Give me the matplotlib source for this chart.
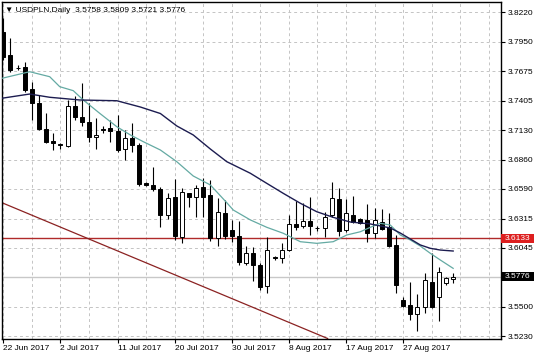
import numpy as np
import matplotlib
matplotlib.use('Agg')
import matplotlib.pyplot as plt
from matplotlib.patches import Rectangle

plt.rcParams['font.family'] = ['Liberation Sans', 'DejaVu Sans']

symbol = 'USDPLN.Daily'

# daily candles, one per trading bar (Sunday bars included, like the broker feed)
opens = [3.8038, 3.7826, 3.7710, 3.7718, 3.7509, 3.7385, 3.7139, 3.7034, 3.6999, 3.6985,
         3.7354, 3.7256, 3.7209, 3.7068, 3.7142, 3.7149, 3.7126, 3.6955, 3.7056, 3.6994,
         3.6639, 3.6625, 3.6585, 3.6348, 3.6517, 3.6149, 3.6548, 3.6511, 3.6606, 3.6528,
         3.6132, 3.6366, 3.6209, 3.6154, 3.5907, 3.5994, 3.5886, 3.5692, 3.5958, 3.5948,
         3.6024, 3.6262, 3.6246, 3.6295, 3.6232, 3.6225, 3.6348, 3.6493, 3.6209, 3.6348,
         3.6308, 3.6302, 3.6179, 3.6286, 3.6234, 3.6071, 3.5563, 3.5516, 3.5433, 3.5495,
         3.5732, 3.5587, 3.5717, 3.5758]
highs = [3.8167, 3.7983, 3.7733, 3.7764, 3.7579, 3.7456, 3.7287, 3.7105, 3.7016, 3.7410,
         3.7447, 3.7564, 3.7379, 3.7241, 3.7170, 3.7225, 3.7271, 3.7133, 3.7200, 3.7013,
         3.6653, 3.6788, 3.6604, 3.6548, 3.6677, 3.6594, 3.6551, 3.6625, 3.6687, 3.6671,
         3.6502, 3.6486, 3.6302, 3.6295, 3.6061, 3.6049, 3.5904, 3.6142, 3.5969, 3.6086,
         3.6348, 3.6477, 3.6461, 3.6511, 3.6246, 3.6378, 3.6655, 3.6594, 3.6493, 3.6523,
         3.6317, 3.6449, 3.6410, 3.6400, 3.6363, 3.6163, 3.5593, 3.5732, 3.5618, 3.5809,
         3.5994, 3.5870, 3.5778, 3.5809]
lows = [3.7779, 3.7669, 3.7687, 3.7487, 3.7225, 3.7133, 3.7010, 3.6948, 3.6955, 3.6973,
        3.7225, 3.7170, 3.7025, 3.6955, 3.7102, 3.7025, 3.6930, 3.6856, 3.6932, 3.6620,
        3.6611, 3.6572, 3.6234, 3.6308, 3.6117, 3.6086, 3.6422, 3.6326, 3.6332, 3.6112,
        3.6061, 3.6126, 3.6101, 3.5886, 3.5886, 3.5741, 3.5655, 3.5624, 3.5932, 3.5902,
        3.6018, 3.6209, 3.6230, 3.6163, 3.6203, 3.6147, 3.6326, 3.6154, 3.6193, 3.6277,
        3.6265, 3.6101, 3.6132, 3.6209, 3.6055, 3.5624, 3.5501, 3.5378, 3.5279, 3.5445,
        3.5486, 3.5371, 3.5701, 3.5721]
closes = [3.7807, 3.7687, 3.7701, 3.7502, 3.7385, 3.7139, 3.7025, 3.7010, 3.6990, 3.7354,
          3.7256, 3.7209, 3.7065, 3.7091, 3.7136, 3.7126, 3.6948, 3.7056, 3.6994, 3.6634,
          3.6625, 3.6585, 3.6348, 3.6502, 3.6154, 3.6563, 3.6511, 3.6597, 3.6517, 3.6132,
          3.6375, 3.6154, 3.6154, 3.5916, 3.5999, 3.5886, 3.5685, 3.6024, 3.5949, 3.6024,
          3.6265, 3.6241, 3.6295, 3.6246, 3.6228, 3.6332, 3.6502, 3.6203, 3.6363, 3.6286,
          3.6277, 3.6184, 3.6302, 3.6216, 3.6061, 3.5701, 3.5507, 3.5433, 3.5495, 3.5747,
          3.5495, 3.5824, 3.5763, 3.5776]

# moving averages (bar position, price)
fast_ma_bars = [-0.2, 3.7, 6.5, 7.9, 9.8, 11.2, 13.5, 15.9, 17.8, 19.6, 22.0, 24.3, 26.6,
                29.0, 31.3, 32.2, 34.6, 36.9, 39.2, 41.6, 43.9, 46.2, 48.1, 50.0, 51.4,
                52.8, 54.2, 55.6, 57.0, 58.4, 59.8, 61.2, 63.0]
fast_ma = [3.7610, 3.7671, 3.7625, 3.7533, 3.7496, 3.7410, 3.7287, 3.7163, 3.7087, 3.7025,
           3.6948, 3.6840, 3.6708, 3.6625, 3.6461, 3.6394, 3.6302, 3.6234, 3.6179, 3.6101,
           3.6086, 3.6101, 3.6163, 3.6193, 3.6234, 3.6271, 3.6255, 3.6163, 3.6117, 3.6061,
           3.5994, 3.5932, 3.5855]
slow_ma_bars = [-0.2, 3.7, 6.5, 10.7, 15.9, 19.2, 22.0, 24.3, 26.6, 29.0, 31.3, 34.6, 36.9,
                39.2, 41.6, 43.9, 46.2, 48.6, 51.4, 54.2, 55.6, 57.0, 58.4, 59.8, 61.2, 63.0]
slow_ma = [3.7426, 3.7465, 3.7435, 3.7410, 3.7403, 3.7345, 3.7285, 3.7170, 3.7087, 3.6957,
           3.6840, 3.6733, 3.6640, 3.6548, 3.6456, 3.6378, 3.6326, 3.6283, 3.6265, 3.6228,
           3.6181, 3.6126, 3.6071, 3.6040, 3.6024, 3.6015]

# support level and falling trendline anchors
level = 3.6133
trend_bars = [0, 44]
trend_prices = [3.6456, 3.5246]

price_ticks = [3.8220, 3.7950, 3.7675, 3.7405, 3.7130, 3.6860, 3.6590, 3.6315, 3.6045,
               3.5500, 3.5230]
date_bars = [0, 8, 16, 24, 32, 40, 48, 56]
date_labels = ['22 Jun 2017', '2 Jul 2017', '11 Jul 2017', '20 Jul 2017', '30 Jul 2017',
               '8 Aug 2017', '17 Aug 2017', '27 Aug 2017']

opens = np.array(opens)
highs = np.array(highs)
lows = np.array(lows)
closes = np.array(closes)
bars = np.arange(len(opens))
last = closes[-1]

fig = plt.figure(figsize=(5.36, 3.57), dpi=100)
ax = fig.add_axes([2 / 536, 18.5 / 357, 499 / 536, 336.5 / 357])

# candles
up = closes >= opens
ax.vlines(bars, lows, highs, color='black', lw=0.8, zorder=3)
ax.bar(bars, np.abs(closes - opens), bottom=np.minimum(opens, closes), width=0.56,
       color=np.where(up, 'white', 'black'), edgecolor='black', linewidth=0.7, zorder=4)

ax.plot(fast_ma_bars, fast_ma, color='#64aaa3', lw=0.9, zorder=5)
ax.plot(slow_ma_bars, slow_ma, color='#1c1c50', lw=1.0, zorder=5)

ax.axhline(level, color='#b02a2a', lw=1.0, zorder=2)
ax.axhline(last, color='#c8c8c8', lw=1.0, zorder=2)
ax.axline((trend_bars[0], trend_prices[0]), (trend_bars[1], trend_prices[1]),
          color='#8b2222', lw=0.9, zorder=2)

ax.set_xlim(-0.18, 69.7)
ax.set_ylim(3.5207, 3.8315)

# axes / ticks
ax.yaxis.tick_right()
ax.set_yticks(price_ticks)
ax.set_yticklabels([f'{p:.4f}' for p in price_ticks])
ax.set_xticks(date_bars)
ax.set_xticklabels(date_labels)
for lbl in ax.get_xticklabels():
    lbl.set_ha('left')
ax.set_xticks(np.arange(0, 70, 4), minor=True)
ax.tick_params(axis='both', which='major', length=3, width=0.8, labelsize=6, pad=2,
               colors='black')
ax.tick_params(axis='x', which='minor', length=0)
ax.grid(True, axis='x', which='both', color='#c4c4c4', lw=0.7, ls=(0, (3, 3)), zorder=0)
ax.grid(True, axis='y', which='major', color='#c4c4c4', lw=0.7, ls=(0, (3, 3)), zorder=0)
for s in ax.spines.values():
    s.set_color('black')
    s.set_linewidth(1.0)

# price tags on the right axis
box_w = 33 / 499
box_h = 0.0083
for price, face in [(level, '#dd1f1f'), (last, 'black')]:
    ax.add_patch(Rectangle((1.0, price - box_h / 2), box_w, box_h, facecolor=face,
                           edgecolor='none', transform=ax.get_yaxis_transform(),
                           clip_on=False, zorder=6))
    ax.text(1.0 + box_w / 2, price, f'{price:.4f}', color='white', fontsize=6,
            ha='center', va='center', transform=ax.get_yaxis_transform(), zorder=7)

ax.text(0.006, 0.976,
        f'\u25bc {symbol}  {opens[-1]:.4f} {highs[-1]:.4f} {lows[-1]:.4f} {closes[-1]:.4f}',
        transform=ax.transAxes, fontsize=6, ha='left', va='center', color='black',
        zorder=8)

fig.savefig('out.png', dpi=100, facecolor='white')
